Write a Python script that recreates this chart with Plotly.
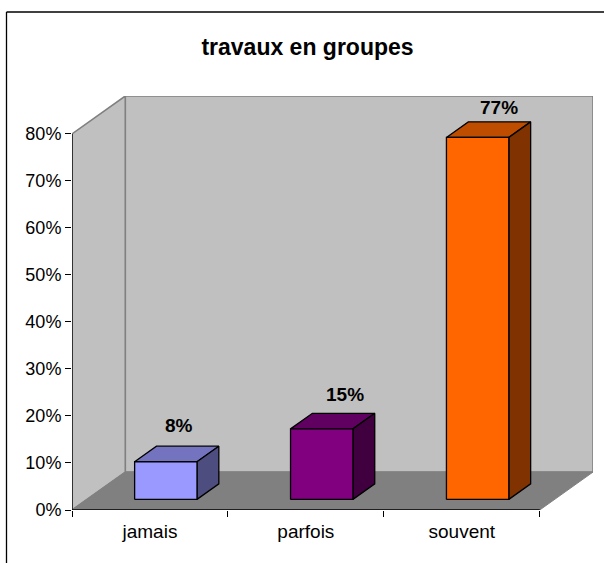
import plotly.graph_objects as go

categories = ["jamais", "parfois", "souvent"]
values = [8, 15, 77]
labels = ["8%", "15%", "77%"]
y_ticks = [0, 10, 20, 30, 40, 50, 60, 70, 80]
y_tick_labels = ["0%", "10%", "20%", "30%", "40%", "50%", "60%", "70%", "80%"]
title = "travaux en groupes"

front_colors = ["#9999FF", "#800080", "#FF6600"]
top_colors = ["#7373BF", "#600060", "#BF4D00"]
side_colors = ["#4D4D80", "#400040", "#803300"]

# oblique projection of the box: one unit of depth moves this far on the page axes
DX, DY = 0.3417, 8.07
Y_MAX = 80
D0, D1 = 0.28, 0.69        # depth span of the bars
BAR_OFFSET = 0.306
BAR_WIDTH = 0.4
LABEL_SHIFT = [(2, 21), (12, 19), (10, 14)]
FONT = "Liberation Sans, Arial, sans-serif"


def proj(x, y, d):
    return x + d * DX, y + d * DY


def poly(points, fill, line, width=1.3):
    pts = [proj(*p) for p in points]
    pts.append(pts[0])
    return go.Scatter(
        x=[p[0] for p in pts], y=[p[1] for p in pts], mode="lines", fill="toself",
        fillcolor=fill, line=dict(color=line, width=width), hoverinfo="skip", showlegend=False,
        cliponaxis=False,
    )


n = len(categories)
fig = go.Figure()
# walls and floor
fig.add_trace(poly([(0, 0, 1), (n, 0, 1), (n, Y_MAX, 1), (0, Y_MAX, 1)], "#C0C0C0", "#808080", 1.6))
fig.add_trace(poly([(0, 0, 0), (0, 0, 1), (0, Y_MAX, 1), (0, Y_MAX, 0)], "#C0C0C0", "#808080", 1.6))
fig.add_trace(poly([(0, 0, 0), (n, 0, 0), (n, 0, 1), (0, 0, 1)], "#808080", "#808080", 1))

annotations = []
for i, v in enumerate(values):
    x0 = i + BAR_OFFSET
    x1 = x0 + BAR_WIDTH
    fig.add_trace(poly([(x0, v, D0), (x1, v, D0), (x1, v, D1), (x0, v, D1)], top_colors[i], "#000000"))
    fig.add_trace(poly([(x1, 0, D0), (x1, 0, D1), (x1, v, D1), (x1, v, D0)], side_colors[i], "#000000"))
    fig.add_trace(poly([(x0, 0, D0), (x1, 0, D0), (x1, v, D0), (x0, v, D0)], front_colors[i], "#000000"))
    annotations.append(dict(
        x=(x0 + x1) / 2 + (D0 + D1) / 2 * DX, y=v + D1 * DY, text="<b>%s</b>" % labels[i], showarrow=False,
        xshift=LABEL_SHIFT[i][0], yshift=LABEL_SHIFT[i][1],
        font=dict(family=FONT, size=19, color="#000000"),
    ))

# axis lines
fig.add_trace(go.Scatter(x=[0, 0], y=[0, Y_MAX], mode="lines", line=dict(color="#000000", width=1.3),
                         hoverinfo="skip", showlegend=False, cliponaxis=False))
fig.add_trace(go.Scatter(x=[0, n], y=[0, 0], mode="lines", line=dict(color="#000000", width=1.3),
                         hoverinfo="skip", showlegend=False, cliponaxis=False))

fig.update_layout(
    width=604, height=563, autosize=False,
    margin=dict(l=72, r=11, t=96, b=53, pad=0),
    paper_bgcolor="#FFFFFF", plot_bgcolor="#FFFFFF",
    showlegend=False, annotations=annotations,
    title=dict(text="<b>%s</b>" % title, x=307.5 / 604, xanchor="center", y=1 - 47 / 563, yanchor="middle",
               font=dict(family=FONT, size=23, color="#000000")),
    shapes=[
        dict(type="line", xref="paper", yref="paper", x0=(6.5 - 72) / 521, x1=(604 - 72) / 521,
             y0=(510 - 12) / 414, y1=(510 - 12) / 414, line=dict(color="#000000", width=1.3)),
        dict(type="line", xref="paper", yref="paper", x0=(6.5 - 72) / 521, x1=(6.5 - 72) / 521,
             y0=(510 - 12) / 414, y1=(510 - 563) / 414, line=dict(color="#000000", width=1.3)),
    ],
    xaxis=dict(
        range=[0, n + DX], showgrid=False, zeroline=False, showline=False,
        tickmode="array", tickvals=[i + 0.5 for i in range(n)], ticktext=categories,
        ticks="", ticklabelstandoff=8, tickfont=dict(family=FONT, size=19, color="#000000"),
        minor=dict(tickmode="array", tickvals=list(range(n + 1)), ticks="outside", ticklen=6,
                   tickcolor="#000000", tickwidth=1),
    ),
    yaxis=dict(
        range=[0, Y_MAX + DY], showgrid=False, zeroline=False, showline=False,
        tickmode="array", tickvals=y_ticks, ticktext=y_tick_labels,
        ticks="outside", ticklen=6, tickcolor="#000000", tickwidth=1,
        tickfont=dict(family=FONT, size=18, color="#000000"),
    ),
)

fig.write_html("out.html", config={"displayModeBar": False},
               post_script="document.body.style.margin='0';")
